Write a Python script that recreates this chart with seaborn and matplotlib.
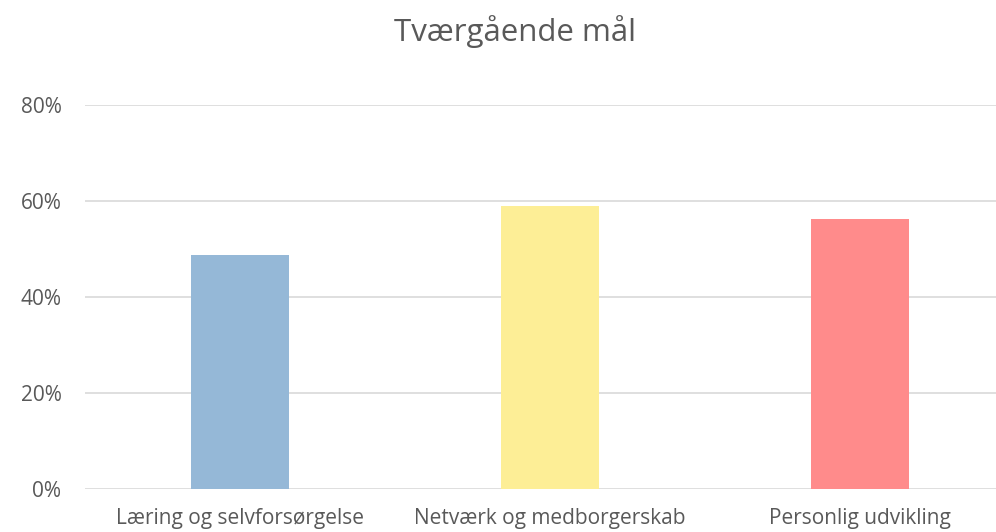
import matplotlib
matplotlib.use("Agg")
import matplotlib.pyplot as plt
import seaborn as sns
import pandas as pd

categories = ["Læring og selvforsørgelse", "Netværk og medborgerskab", "Personlig udvikling"]
values = [48.8, 59.0, 56.3]
colors = ["#95B8D7", "#FDEE96", "#FF8B8B"]
yticks = [0, 20, 40, 60, 80]
title = "Tværgående mål"

sns.set_theme(style="white")
plt.rcParams["font.family"] = ["Open Sans", "DejaVu Sans"]

df = pd.DataFrame({"kategori": categories, "andel": values})

fig = plt.figure(figsize=(9.96, 5.32), dpi=100)
ax = fig.add_axes([85 / 996, 1 - 489 / 532, (996 - 85) / 996, (489 - 105) / 532])

sns.barplot(data=df, x="kategori", y="andel", hue="kategori", palette=colors,
            saturation=1, width=0.316, linewidth=0, edgecolor="none",
            legend=False, ax=ax, zorder=3)

ax.set_xlim(-0.5, 2.439)
ax.set_ylim(0, 80)
ax.set_yticks(yticks)
ax.set_yticklabels([f"{t}%" for t in yticks])
ax.yaxis.grid(True, color="#D9D9D9", linewidth=1.2, zorder=0)
ax.set_axisbelow(True)
for s in ax.spines.values():
    s.set_visible(False)
ax.set_xlabel("")
ax.set_ylabel("")
ax.tick_params(axis="both", length=0, labelsize=15, colors="#595959")
ax.tick_params(axis="y", pad=17)
ax.tick_params(axis="x", pad=14)
fig.text(0.517, 0.94, title, ha="center", va="center", fontsize=22.5, color="#595959")

fig.savefig("out.png", dpi=100)
